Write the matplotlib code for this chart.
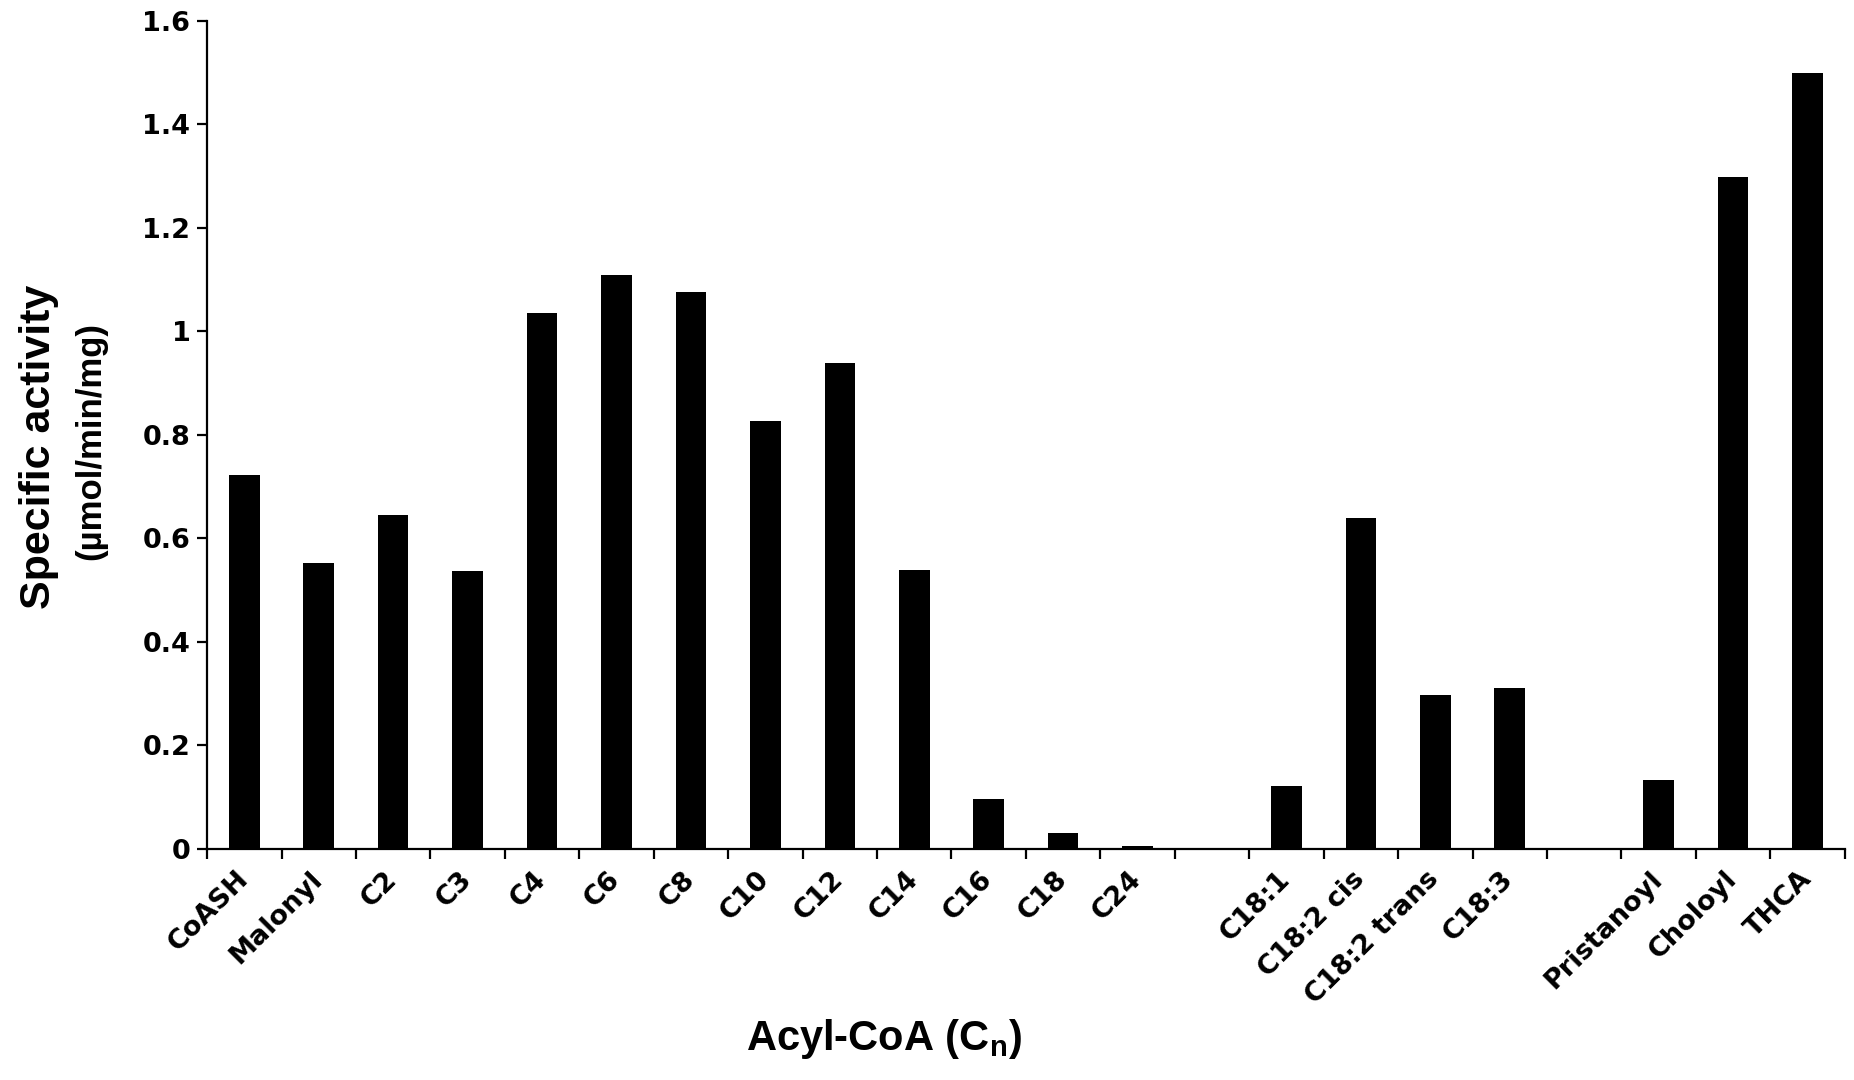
import matplotlib
matplotlib.use("Agg")
import matplotlib.pyplot as plt
import numpy as np

# categories ("" = empty slot in the chart)
categories = [
    "CoASH", "Malonyl", "C2", "C3", "C4", "C6", "C8", "C10", "C12", "C14",
    "C16", "C18", "C24", "", "C18:1", "C18:2 cis", "C18:2 trans", "C18:3",
    "", "Pristanoyl", "Choloyl", "THCA",
]
activity = [
    0.722, 0.553, 0.645, 0.537, 1.035, 1.109, 1.077, 0.827, 0.939, 0.539,
    0.096, 0.030, 0.005, np.nan, 0.121, 0.640, 0.297, 0.311,
    np.nan, 0.133, 1.298, 1.499,
]
y_ticks = [0, 0.2, 0.4, 0.6, 0.8, 1.0, 1.2, 1.4, 1.6]
y_tick_labels = ["0", "0.2", "0.4", "0.6", "0.8", "1", "1.2", "1.4", "1.6"]

plt.rcParams["mathtext.fontset"] = "custom"
plt.rcParams["mathtext.rm"] = "Liberation Sans:bold"

tick_font = dict(family="DejaVu Sans", weight="bold", size=19.5)
title_font = "Liberation Sans"

fig = plt.figure(figsize=(18.54, 10.8), dpi=100)
ax = fig.add_axes([0.1117, 0.2139, 0.8833, 0.7667])

pos = np.arange(len(categories)) + 0.5
ax.bar(pos, activity, width=0.41, color="black", zorder=1)

ax.set_xlim(0, len(categories))
ax.set_ylim(0, 1.6)

for side in ("top", "right"):
    ax.spines[side].set_visible(False)
for side in ("left", "bottom"):
    ax.spines[side].set_linewidth(1.6)
    ax.spines[side].set_zorder(3)

ax.set_yticks(y_ticks)
ax.set_yticklabels(y_tick_labels, fontdict=tick_font)
ax.tick_params(axis="y", direction="out", length=7, width=1.6, pad=5)

ax.set_xticks(np.arange(len(categories) + 1))
ax.set_xticklabels([])
ax.tick_params(axis="x", which="major", direction="out", length=7, width=1.6)
ax.set_xticks(pos, minor=True)
ax.set_xticklabels(categories, minor=True, fontdict=tick_font,
                   rotation=45, ha="right", va="center", rotation_mode="anchor")
ax.tick_params(axis="x", which="minor", length=0, pad=19)

fig.text(0.021, 0.586, "Specific activity", rotation=90, ha="center", va="center",
         family=title_font, weight="bold", size=31)
fig.text(0.049, 0.592, "(\u00b5mol/min/mg)", rotation=90, ha="center", va="center",
         family=title_font, weight="bold", size=25)
fig.text(0.477, 0.038, r"Acyl-CoA (C$_{\mathrm{n}}$)", ha="center", va="center",
         family=title_font, weight="bold", size=30)

fig.savefig("out.png", dpi=100)
plt.close(fig)
